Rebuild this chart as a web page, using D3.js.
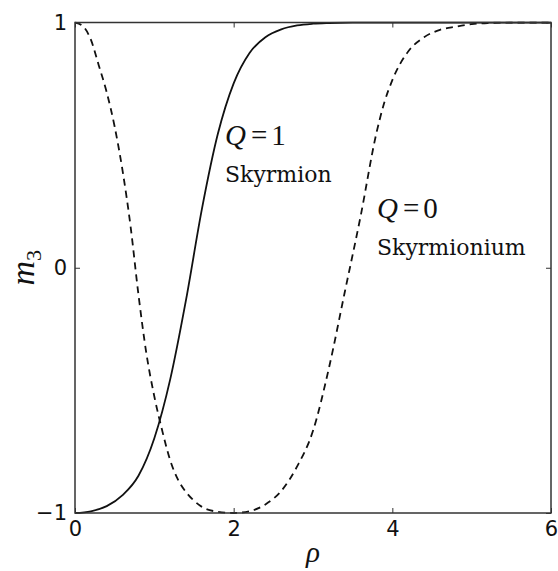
<!DOCTYPE html>
<html>
<head>
<meta charset="utf-8">
<script src="https://cdn.jsdelivr.net/npm/d3@7/dist/d3.min.js"></script>
<style>
  html, body { margin: 0; padding: 0; background: #fff; }
  svg { display: block; }
</style>
</head>
<body>
<div id="chart"></div>
<script>
// Radial profile m3(rho): Q=1 skyrmion (solid) and Q=0 skyrmionium (dashed)
const skyrmionRho = [0, 0.2, 0.4, 0.6, 0.8, 1.0, 1.2, 1.4, 1.6, 1.8, 2.0, 2.2, 2.4, 2.6, 2.8, 3.0, 3.2, 3.5, 4.0, 5.0, 6.0];
const skyrmionM3  = [-1.0, -0.993, -0.972, -0.927, -0.848, -0.695, -0.455, -0.13, 0.24, 0.545, 0.752, 0.876, 0.94, 0.972, 0.988, 0.995, 0.998, 1.0, 1.0, 1.0, 1.0];

const skyrmioniumRho = [0, 0.1, 0.2, 0.3, 0.4, 0.5, 0.6, 0.7, 0.8, 0.9, 1.0, 1.1, 1.2, 1.3, 1.4, 1.5, 1.6, 1.8, 2.0, 2.2, 2.4, 2.6, 2.8, 3.0, 3.2, 3.4, 3.6, 3.8, 3.9, 4.0, 4.2, 4.4, 4.6, 4.8, 5.0, 5.2, 5.5, 6.0];
const skyrmioniumM3  = [1.0, 0.985, 0.93, 0.825, 0.715, 0.575, 0.395, 0.17, -0.11, -0.35, -0.525, -0.665, -0.785, -0.865, -0.915, -0.95, -0.975, -0.995, -1.0, -0.993, -0.965, -0.91, -0.81, -0.665, -0.41, -0.1, 0.21, 0.55, 0.675, 0.765, 0.882, 0.94, 0.97, 0.983, 0.993, 0.998, 1.0, 1.0];

const xTicks = [0, 2, 4, 6];
const yTicks = [-1, 0, 1];
const xTickLabels = ["0", "2", "4", "6"];
const yTickLabels = ["\u22121", "0", "1"];

const W = 558, H = 571;
const margin = { left: 75, right: 7, top: 22.5, bottom: 58 };

const svg = d3.select("#chart").append("svg")
  .attr("width", W).attr("height", H);

const x = d3.scaleLinear().domain([0, 6]).range([margin.left, W - margin.right]);
const y = d3.scaleLinear().domain([-1, 1]).range([H - margin.bottom, margin.top]);

const line = d3.line()
  .x(d => x(d[0])).y(d => y(d[1]))
  .curve(d3.curveMonotoneX);

svg.append("clipPath").attr("id", "plot-clip")
  .append("rect")
  .attr("x", x(0)).attr("y", y(1) - 1)
  .attr("width", x(6) - x(0)).attr("height", y(-1) - y(1) + 2);

const curves = svg.append("g").attr("clip-path", "url(#plot-clip)");

curves.append("path")
  .datum(d3.zip(skyrmionRho, skyrmionM3))
  .attr("d", line)
  .attr("fill", "none")
  .attr("stroke", "#111")
  .attr("stroke-width", 1.8);

curves.append("path")
  .datum(d3.zip(skyrmioniumRho, skyrmioniumM3))
  .attr("d", line)
  .attr("fill", "none")
  .attr("stroke", "#111")
  .attr("stroke-width", 1.8)
  .attr("stroke-dasharray", "7,5");

// Axes with inward ticks on all four sides
const tickLen = 5;
const axisStyle = g => {
  g.select(".domain").remove();
  g.selectAll(".tick line").attr("stroke", "#333").attr("stroke-width", 1);
  g.selectAll(".tick text")
    .attr("font-family", "'DejaVu Sans', sans-serif")
    .attr("font-size", 21)
    .attr("fill", "#111");
};

svg.append("g")
  .attr("transform", `translate(0,${y(-1)})`)
  .call(d3.axisBottom(x).tickValues(xTicks).tickFormat((d, i) => xTickLabels[i])
    .tickSizeInner(-tickLen).tickPadding(tickLen + 3))
  .call(axisStyle);

svg.append("g")
  .attr("transform", `translate(0,${y(1)})`)
  .call(d3.axisTop(x).tickValues(xTicks).tickFormat("")
    .tickSizeInner(-tickLen))
  .call(axisStyle);

svg.append("g")
  .attr("transform", `translate(${x(0)},0)`)
  .call(d3.axisLeft(y).tickValues(yTicks).tickFormat((d, i) => yTickLabels[i])
    .tickSizeInner(-tickLen).tickPadding(tickLen + 3))
  .call(axisStyle);

svg.append("g")
  .attr("transform", `translate(${x(6)},0)`)
  .call(d3.axisRight(y).tickValues(yTicks).tickFormat("")
    .tickSizeInner(-tickLen))
  .call(axisStyle);

// Frame
svg.append("rect")
  .attr("x", x(0)).attr("y", y(1))
  .attr("width", x(6) - x(0)).attr("height", y(-1) - y(1))
  .attr("fill", "none")
  .attr("stroke", "#333")
  .attr("stroke-width", 1.5);

// Axis titles
const mathFont = "'Liberation Serif', 'DejaVu Serif', serif";

svg.append("text")
  .attr("x", (x(0) + x(6)) / 2)
  .attr("y", 562)
  .attr("text-anchor", "middle")
  .attr("font-family", mathFont)
  .attr("font-style", "italic")
  .attr("font-size", 29)
  .attr("fill", "#111")
  .text("\u03c1");

const yTitle = svg.append("text")
  .attr("transform", `translate(34,${(y(1) + y(-1)) / 2}) rotate(-90)`)
  .attr("text-anchor", "middle")
  .attr("font-family", mathFont)
  .attr("font-size", 34)
  .attr("fill", "#111");
yTitle.append("tspan").attr("font-style", "italic").text("m");
yTitle.append("tspan").attr("font-size", 22).attr("dy", 7).text("3");

// Curve annotations
function qLabel(px, py, q) {
  const t = svg.append("text")
    .attr("x", px).attr("y", py)
    .attr("font-family", mathFont)
    .attr("font-size", 29)
    .attr("fill", "#111");
  t.append("tspan").attr("font-style", "italic").text("Q");
  t.append("tspan").attr("dx", 5).text("=");
  t.append("tspan").attr("dx", 4).text(q);
}

function nameLabel(px, py, s) {
  svg.append("text")
    .attr("x", px).attr("y", py)
    .attr("font-family", "'DejaVu Serif', serif")
    .attr("font-size", 22)
    .attr("fill", "#111")
    .text(s);
}

qLabel(225, 145, "1");
nameLabel(225, 182, "Skyrmion");
qLabel(377, 218, "0");
nameLabel(377, 255, "Skyrmionium");
</script>
</body>
</html>
